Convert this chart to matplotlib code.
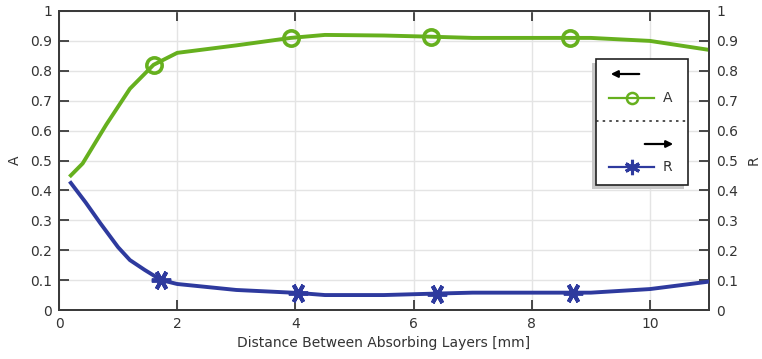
import matplotlib
matplotlib.use("Agg")
import matplotlib.pyplot as plt
from matplotlib.patches import Rectangle, FancyArrowPatch
from matplotlib.lines import Line2D

# ---- data ----
x_A = [0.2, 0.4, 0.8, 1.2, 1.6, 2.0, 3.0, 3.92, 4.5, 5.5, 6.3, 7.0, 8.0, 8.65, 9.0, 10.0, 11.0]
A   = [0.45, 0.49, 0.62, 0.74, 0.82, 0.86, 0.885, 0.91, 0.92, 0.918, 0.914, 0.91, 0.91, 0.91, 0.91, 0.90, 0.87]
A_marks = [4, 7, 10, 13]

x_R = [0.2, 0.45, 0.7, 1.0, 1.2, 1.45, 1.73, 2.0, 3.0, 4.05, 4.5, 5.5, 6.4, 7.0, 8.0, 8.7, 9.0, 10.0, 11.0]
R   = [0.425, 0.36, 0.29, 0.21, 0.167, 0.134, 0.10, 0.087, 0.067, 0.057, 0.05, 0.05, 0.055, 0.058, 0.058, 0.058, 0.058, 0.07, 0.095]
R_marks = [6, 9, 12, 15]

x_ticks = [0, 2, 4, 6, 8, 10]
y_ticks = [0, 0.1, 0.2, 0.3, 0.4, 0.5, 0.6, 0.7, 0.8, 0.9, 1]
y_labels = ["0", "0.1", "0.2", "0.3", "0.4", "0.5", "0.6", "0.7", "0.8", "0.9", "1"]

green = "#66b01e"
blue = "#2e3a9e"
txt = "#333333"
star = (6, 2, 90)

plt.rcParams['font.family'] = ['DejaVu Sans']
fig = plt.figure(figsize=(7.62, 3.59), dpi=100)
ax = fig.add_axes([59/762, 49/359, 650/762, 299/359])
ax2 = ax.twinx()

ax.set_xlim(0, 11)
ax.set_ylim(0, 1)
ax2.set_ylim(0, 1)

ax.grid(True, color="#e4e4e4", lw=1.0)
ax.set_axisbelow(True)

ax.plot(x_A, A, color=green, lw=2.8, marker="o", markevery=A_marks, ms=11,
        mfc="none", mec=green, mew=2.6, zorder=3)
ax2.plot(x_R, R, color=blue, lw=2.8, marker=star, markevery=R_marks, ms=14,
         mec=blue, mew=2.8, zorder=3)

ax.set_xticks(x_ticks)
ax.set_yticks(y_ticks)
ax.set_yticklabels(y_labels)
ax2.set_yticks(y_ticks)
ax2.set_yticklabels(y_labels)

for a in (ax, ax2):
    for s in a.spines.values():
        s.set_color("#3a3a3a")
        s.set_linewidth(1.3)
ax.tick_params(axis="both", direction="in", length=7, width=1.3, color="#3a3a3a",
               labelsize=10, labelcolor=txt, top=True, pad=5)
ax.tick_params(axis="y", right=False)
ax2.tick_params(axis="y", direction="in", length=7, width=1.3, color="#3a3a3a",
                labelsize=10, labelcolor=txt, pad=5)

ax.set_xlabel("Distance Between Absorbing Layers [mm]", fontsize=10, color=txt, labelpad=4)
ax.set_ylabel("A", fontsize=10, color=txt, labelpad=6)
ax2.set_ylabel("R", fontsize=10, color=txt, labelpad=6, rotation=90)

# ---- legend (custom, COMSOL style) ----
def fx(px): return (px - 59) / 650
def fy(py): return (310 - py) / 299

tr = ax2.transAxes
bx0, bx1, by0, by1 = fx(596), fx(688), fy(185), fy(59)
shadow = Rectangle((fx(592), fy(189)), bx1 - bx0, by1 - by0, transform=tr,
                   facecolor="#c8c8c8", edgecolor="none", zorder=8, clip_on=False)
box = Rectangle((bx0, by0), bx1 - bx0, by1 - by0, transform=tr,
                facecolor="white", edgecolor="#222222", lw=1.2, zorder=9, clip_on=False)
ax2.add_patch(shadow)
ax2.add_patch(box)

arr1 = FancyArrowPatch((fx(642), fy(74)), (fx(608), fy(74)), transform=tr,
                       arrowstyle="-|>,head_length=4,head_width=2", mutation_scale=1,
                       color="black", lw=1.6, zorder=10)
arr2 = FancyArrowPatch((fx(642), fy(144)), (fx(676), fy(144)), transform=tr,
                       arrowstyle="-|>,head_length=4,head_width=2", mutation_scale=1,
                       color="black", lw=1.6, zorder=10)
ax2.add_patch(arr1)
ax2.add_patch(arr2)

ax2.add_line(Line2D([fx(609), fx(654)], [fy(98), fy(98)], transform=tr, color=green, lw=1.6, zorder=10))
ax2.add_line(Line2D([fx(632)], [fy(98)], transform=tr, color=green, marker="o", ms=8,
                    mfc="none", mec=green, mew=1.8, zorder=10))
ax2.add_line(Line2D([fx(609), fx(654)], [fy(167), fy(167)], transform=tr, color=blue, lw=1.6, zorder=10))
ax2.add_line(Line2D([fx(632)], [fy(167)], transform=tr, color=blue, marker=(6, 2, 0), ms=11,
                    mec=blue, mew=2.2, zorder=10))
ax2.add_line(Line2D([bx0, bx1], [fy(121), fy(121)], transform=tr, color="#333333", lw=1.2,
                    ls=(0, (1.5, 2.5)), zorder=10))
ax2.text(fx(663), fy(98), "A", transform=tr, fontsize=10, color=txt, va="center", ha="left", zorder=11)
ax2.text(fx(663), fy(167), "R", transform=tr, fontsize=10, color=txt, va="center", ha="left", zorder=11)

fig.savefig("out.png", dpi=100)
